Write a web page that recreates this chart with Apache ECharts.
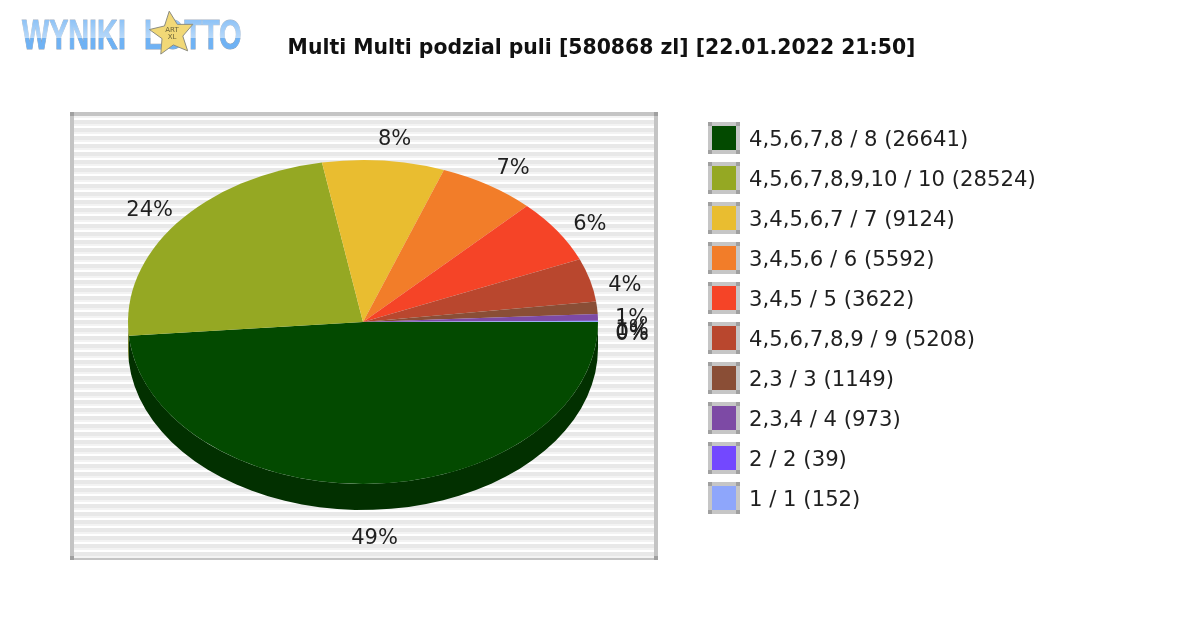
<!DOCTYPE html>
<html lang="en">
<head>
    <meta charset="UTF-8">
    <title>Multi Multi</title>
    <script src="https://cdn.jsdelivr.net/npm/echarts@6/dist/echarts.min.js"></script>
    <style>html,body{margin:0;padding:0;background:#fff}</style>
</head>
<body>
    <div id="chart_div" style="width: 1200px; height: 630px;"></div>
    <script type="text/javascript">
    var titleText = 'Multi Multi podzial puli [580868 zl] [22.01.2022 21:50]';
    var categories = ['4,5,6,7,8 / 8 (26641)', '4,5,6,7,8,9,10 / 10 (28524)', '3,4,5,6,7 / 7 (9124)', '3,4,5,6 / 6 (5592)',
        '3,4,5 / 5 (3622)', '4,5,6,7,8,9 / 9 (5208)', '2,3 / 3 (1149)', '2,3,4 / 4 (973)', '2 / 2 (39)', '1 / 1 (152)'];
    // share of the pool in percent
    var shares = [48.7, 23.6, 8.4, 6.7, 6.4, 4.3, 1.25, 0.65, 0.03, 0.1];
    var percentLabels = ['49%', '24%', '8%', '7%', '6%', '4%', '1%', '1%', '0%', '0%'];

    var colors = ['#034a00', '#95a823', '#e9bd30', '#f27d29', '#f54427', '#b9472e', '#8a4e36', '#7d4aa5', '#7348ff', '#8ea6fb'];
    var sideColors = ['#023000', '#687518', '#a38421', '#a9571c', '#ab2f1b', '#813120', '#603625', '#573373', '#5032b2', '#6374af'];

    var cx = 363, cy = 322, rx = 235, ry = 162, depth = 26;
    var total = shares.reduce(function (a, b) { return a + b; }, 0);
    var startAngles = [], run = 0;
    shares.forEach(function (v) {
        startAngles.push(run / total * Math.PI * 2);
        run += v;
    });

    function sideShape(a0, a1) {
        // only the lower half of the pie shows an edge
        var end = Math.min(a1, Math.PI), pts = [], i, t;
        if (a0 >= end) return null;
        for (i = 0; i <= 40; i++) {
            t = a0 + (end - a0) * i / 40;
            pts.push([cx + rx * Math.cos(t), cy + ry * Math.sin(t)]);
        }
        for (i = 40; i >= 0; i--) {
            t = a0 + (end - a0) * i / 40;
            pts.push([cx + rx * Math.cos(t), cy + depth + ry * Math.sin(t)]);
        }
        return pts;
    }

    function renderSlice(params, api) {
        var i = params.dataIndex;
        var a0 = startAngles[i];
        var a1 = a0 + api.value(0) / total * Math.PI * 2;
        var mid = (a0 + a1) / 2;
        var c = Math.cos(mid), s = Math.sin(mid);
        var children = [];
        var side = sideShape(a0, a1);
        if (side) {
            children.push({ type: 'polygon', shape: { points: side }, style: { fill: sideColors[i] }, z2: 1 });
        }
        children.push({
            type: 'sector', x: cx, y: cy, scaleY: ry / rx,
            shape: { cx: 0, cy: 0, r0: 0, r: rx, startAngle: a0, endAngle: a1, clockwise: true },
            style: { fill: colors[i] }, z2: 2
        });
        // labels sit on a wider ellipse, pushed below the edge at the bottom
        var nudgeY = s > 0 ? depth + 8 : 13 * Math.pow(Math.max(0, c), 4);
        var nudgeX = (s < 0 && c > -0.2) ? 8 * Math.abs(s) : 0;
        children.push({
            type: 'text', x: cx + 269 * c + nudgeX, y: cy + 183 * s + nudgeY, z2: 5,
            style: { text: percentLabels[i], font: '21px "DejaVu Sans"', fill: '#1f1f1f', align: 'center', verticalAlign: 'middle' }
        });
        // legend row
        var ly = 122 + i * 40;
        children.push({ type: 'rect', shape: { x: 708, y: ly, width: 32, height: 32 }, style: { fill: '#c6c6c6' }, z2: 2 });
        [[708, ly], [736, ly], [708, ly + 28], [736, ly + 28]].forEach(function (p) {
            children.push({ type: 'rect', shape: { x: p[0], y: p[1], width: 4, height: 4 }, style: { fill: '#a0a0a0' }, z2: 3 });
        });
        children.push({ type: 'rect', shape: { x: 712, y: ly + 4, width: 24, height: 24 }, style: { fill: colors[i] }, z2: 3 });
        children.push({
            type: 'text', x: 749, y: ly + 19, scaleX: 1.01, z2: 3,
            style: { text: categories[i], font: '21px "DejaVu Sans"', fill: '#1f1f1f', align: 'left', verticalAlign: 'middle' }
        });
        return { type: 'group', children: children };
    }

    // striped plot background with the bevelled frame
    var background = [{ type: 'rect', shape: { x: 70, y: 112, width: 588, height: 448 }, style: { fill: '#c4c4c4' }, z: 0 },
        { type: 'rect', shape: { x: 74, y: 116, width: 580, height: 440 }, style: { fill: '#fff' }, z: 0 }];
    background.push({ type: 'rect', shape: { x: 74, y: 116, width: 580, height: 2 }, style: { fill: '#f3f3f3' }, z: 0 });
    for (var y = 120; y < 556; y += 8) {
        background.push({ type: 'rect', shape: { x: 74, y: y, width: 580, height: 4 }, style: { fill: '#e8e8e8' }, z: 0 });
        background.push({ type: 'rect', shape: { x: 74, y: y + 4, width: 580, height: 2 }, style: { fill: '#f3f3f3' }, z: 0 });
    }
    [[70, 112], [654, 112], [70, 556], [654, 556]].forEach(function (p) {
        background.push({ type: 'rect', shape: { x: p[0], y: p[1], width: 4, height: 4 }, style: { fill: '#a0a0a0' }, z: 0 });
    });

    // logo: canvas text takes no gradient, so a white veil lightens the upper half
    function logoText(str, x, sx) {
        return {
            type: 'text', x: x, y: 37, scaleX: sx, z: 1,
            style: { text: str, font: 'bold 42px "Liberation Sans"', fill: '#6fb2f4', stroke: '#8f9fb3', lineWidth: 1, align: 'left', verticalAlign: 'middle' }
        };
    }
    var starPts = [];
    for (var k = 0; k < 10; k++) {
        var r = k % 2 ? 11 : 23, ang = -Math.PI / 2 - 0.12 + k * Math.PI / 5;
        starPts.push([172 + r * Math.cos(ang), 34 + r * Math.sin(ang)]);
    }
    background.push(logoText('WYNIKI', 22, 0.685), logoText('LOTTO', 144, 0.69));
    background.push({
        type: 'rect', shape: { x: 18, y: 16, width: 226, height: 22 }, z: 1,
        style: { fill: { type: 'linear', x: 0, y: 0, x2: 0, y2: 1, colorStops: [{ offset: 0, color: 'rgba(255,255,255,0.15)' }, { offset: 1, color: 'rgba(255,255,255,0.5)' }] } }
    });
    background.push({ type: 'polygon', shape: { points: starPts }, style: { fill: '#f1d877', stroke: '#8d8d80', lineWidth: 1 }, z: 2 });
    background.push({ type: 'text', x: 172, y: 34, z: 3, style: { text: 'ART\nXL', font: '7px "DejaVu Sans"', fill: '#6b6339', align: 'center', verticalAlign: 'middle' } });
    background.push({
        type: 'text', x: 601.5, y: 49, z: 3,
        style: { text: titleText, font: 'bold 20.4px "DejaVu Sans"', fill: '#111', align: 'center', verticalAlign: 'middle' }
    });

    var chart = echarts.init(document.getElementById('chart_div'));
    chart.setOption({
        animation: false,
        backgroundColor: '#fff',
        graphic: background,
        series: [{
            type: 'custom',
            coordinateSystem: 'none',
            z: 10,
            renderItem: renderSlice,
            data: shares.map(function (v) { return [v]; })
        }]
    });
    </script>
</body>
</html>
